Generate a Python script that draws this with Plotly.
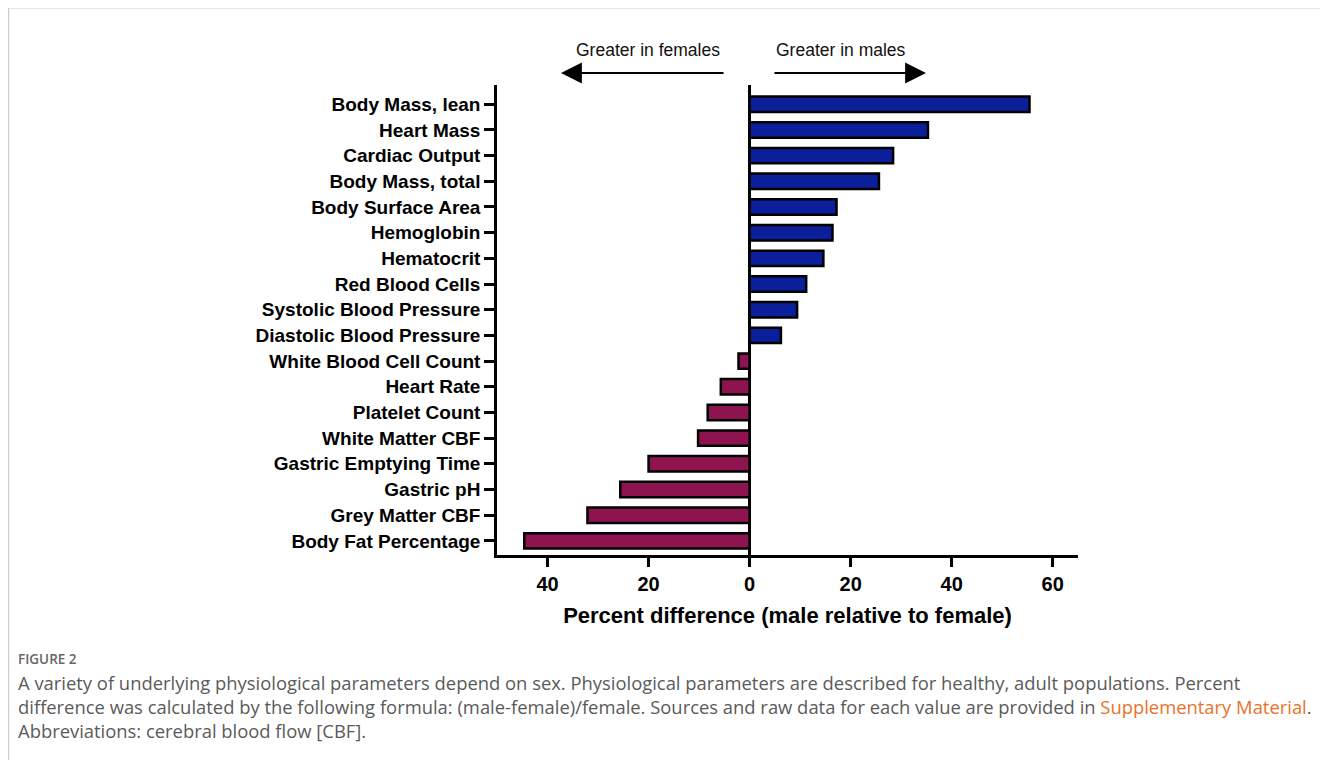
import plotly.graph_objects as go

# ---- data (top to bottom as in the figure) ----
categories = [
    "Body Mass, lean", "Heart Mass", "Cardiac Output", "Body Mass, total",
    "Body Surface Area", "Hemoglobin", "Hematocrit", "Red Blood Cells",
    "Systolic Blood Pressure", "Diastolic Blood Pressure",
    "White Blood Cell Count", "Heart Rate", "Platelet Count",
    "White Matter CBF", "Gastric Emptying Time", "Gastric pH",
    "Grey Matter CBF", "Body Fat Percentage",
]
values = [55.4, 35.3, 28.4, 25.6, 17.2, 16.4, 14.6, 11.2, 9.4, 6.2,
          -2.2, -5.7, -8.3, -10.2, -20.0, -25.6, -32.1, -44.6]
tick_vals = [-40, -20, 0, 20, 40, 60]
tick_text = ["40", "20", "0", "20", "40", "60"]

BLUE = "#0b1f9a"
MAROON = "#8e1450"
colors = [BLUE if v > 0 else MAROON for v in values]

OFF = 8  # page body margin
W, H = 1328, 760
L = 497 - OFF
T = 85 - OFF
R = W - (1078 - OFF)
B = H - (555 - OFF)
PW, PH = W - L - R, H - T - B


def px_x(p):
    return (p - OFF - L) / PW


def px_y(p):
    return (H - B - (p - OFF)) / PH


fig = go.Figure()
fig.add_trace(go.Bar(
    y=categories[::-1], x=values[::-1], orientation="h",
    marker=dict(color=colors[::-1], line=dict(color="black", width=2.5)),
    width=0.6, hoverinfo="x+y",
))

SANS = "Liberation Sans, Arial, sans-serif"

fig.update_layout(
    width=W, height=H,
    margin=dict(l=L, r=R, t=T, b=B, pad=0),
    paper_bgcolor="white", plot_bgcolor="white",
    showlegend=False,
    xaxis=dict(
        range=[-50, 65], tickvals=tick_vals, ticktext=tick_text,
        showgrid=False, zeroline=True, zerolinecolor="black", zerolinewidth=2.5,
        showline=True, linecolor="black", linewidth=2.5,
        ticks="outside", ticklen=9, tickwidth=2.5, tickcolor="black",
        tickfont=dict(family=SANS, size=20, color="black", weight="bold"),
        title=dict(text="<b>Percent difference (male relative to female)</b>",
                   font=dict(family=SANS, size=22, color="black"),
                   standoff=14),
        fixedrange=True,
    ),
    yaxis=dict(
        type="category", categoryorder="array", categoryarray=categories[::-1],
        range=[-0.55, 17.75],
        showgrid=False, zeroline=False,
        showline=True, linecolor="black", linewidth=2.5,
        ticks="outside", ticklen=10, tickwidth=2.5, tickcolor="black",
        tickfont=dict(family=SANS, size=19, color="black", weight="bold"),
        ticklabelstandoff=0,
        fixedrange=True,
    ),
)

ANN_FONT = dict(family=SANS, size=17.5, color="#111")
annotations = [
    dict(text="Greater in females", x=px_x(648), y=px_y(50), showarrow=False,
         xanchor="center", yanchor="middle", font=ANN_FONT),
    dict(text="Greater in males", x=px_x(841), y=px_y(50), showarrow=False,
         xanchor="center", yanchor="middle", font=ANN_FONT),
    dict(text="", x=px_x(561), y=px_y(73), ax=725 - 561, ay=0,
         showarrow=True, arrowhead=2, arrowsize=1.9, arrowwidth=2.2, arrowcolor="black"),
    dict(text="", x=px_x(926), y=px_y(73), ax=773 - 926, ay=0,
         showarrow=True, arrowhead=2, arrowsize=1.9, arrowwidth=2.2, arrowcolor="black"),
]

CAP_FONT = dict(family="Open Sans, Noto Sans, sans-serif", size=18.4, color="#5a5a5a")
caption_lines = [
    "A variety of underlying physiological parameters depend on sex. Physiological parameters are described for healthy, adult populations. Percent",
    "difference was calculated by the following formula: (male-female)/female. Sources and raw data for each value are provided in "
    "<span style='color:#e8722c'>Supplementary Material</span>.",
    "Abbreviations: cerebral blood flow [CBF].",
]
annotations.append(dict(text="FIGURE 2", x=px_x(16), y=px_y(659), showarrow=False,
                        xanchor="left", yanchor="middle",
                        font=dict(family="Open Sans, Noto Sans, sans-serif", size=13.5,
                                  color="#666666", weight=600)))
annotations.append(dict(text="<br>".join(caption_lines), x=px_x(16), y=px_y(706),
                        showarrow=False, xanchor="left", yanchor="middle", align="left",
                        font=CAP_FONT))
for a in annotations:
    a.setdefault("xref", "paper")
    a.setdefault("yref", "paper")
fig.update_layout(annotations=annotations)

fig.add_shape(type="rect", xref="paper", yref="paper",
              x0=px_x(8.6), x1=px_x(1325), y0=px_y(790), y1=px_y(8),
              line=dict(color="#cccccc", width=1.2), fillcolor="rgba(0,0,0,0)", layer="below")

fig.write_html("out.html")
